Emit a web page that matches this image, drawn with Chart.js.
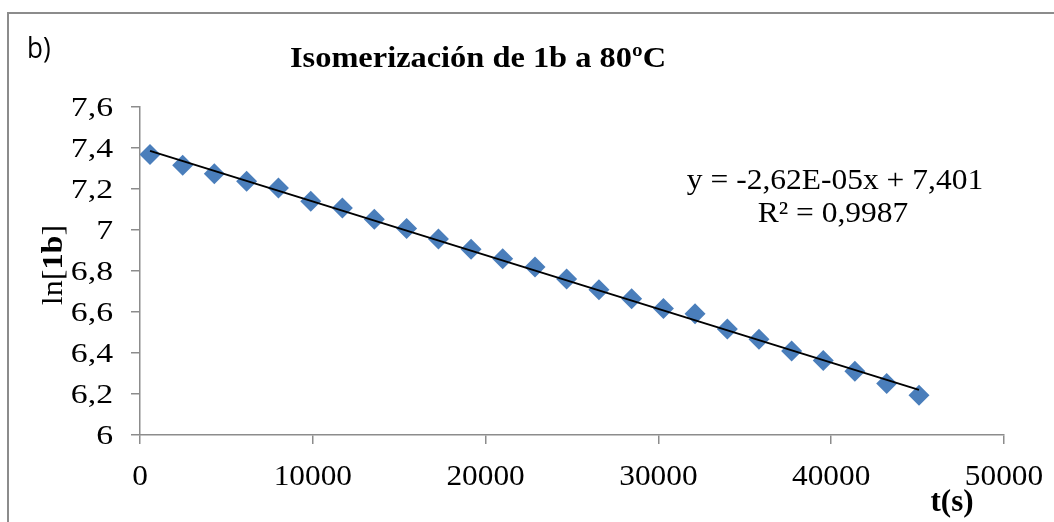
<!DOCTYPE html>
<html>
<head>
<meta charset="utf-8">
<script src="https://cdn.jsdelivr.net/npm/chart.js@4"></script>
<style>
  body { margin: 0; background: #fff; }
  #wrap { width: 1054px; height: 522px; }
</style>
</head>
<body>
<div id="wrap"><canvas id="myChart" width="1054" height="522"></canvas></div>
<script>
// data
const timeS = [580, 2470, 4300, 6170, 8010, 9880, 11710, 13560, 15430, 17270, 19160, 20990,
  22860, 24690, 26560, 28450, 30290, 32120, 33990, 35820, 37710, 39540, 41370, 43210, 45080];
const lnC = [7.368, 7.316, 7.275, 7.238, 7.205, 7.140, 7.107, 7.052, 7.007, 6.956, 6.906, 6.860,
  6.820, 6.761, 6.709, 6.665, 6.617, 6.592, 6.517, 6.467, 6.410, 6.364, 6.311, 6.251, 6.194];
const trendX = [580, 45080];
const trendY = [7.386, 6.220];

const xTicks = [0, 10000, 20000, 30000, 40000, 50000];
const xTickLabels = ["0", "10000", "20000", "30000", "40000", "50000"];
const yTicks = [6, 6.2, 6.4, 6.6, 6.8, 7, 7.2, 7.4, 7.6];
const yTickLabels = ["6", "6,2", "6,4", "6,6", "6,8", "7", "7,2", "7,4", "7,6"];

const titleText = "Isomerización de 1b a 80ºC";
const eqLine1 = "y = -2,62E-05x + 7,401";
const eqLine2 = "R² = 0,9987";

const axisGray = "#8c8c8c";
const serif = "'Liberation Serif', 'Times New Roman', serif";

// draws text squeezed/stretched horizontally by sx
drawRuns = (ctx, parts, x, y, align, sx) => {
  ctx.save();
  ctx.textBaseline = "alphabetic";
  ctx.textAlign = "left";
  let w = 0;
  parts.forEach(p => { ctx.font = p[1]; w += ctx.measureText(p[0]).width; });
  w *= sx;
  let x0 = align === "center" ? x - w / 2 : align === "right" ? x - w : x;
  ctx.translate(x0, y);
  ctx.scale(sx, 1);
  let cx = 0;
  parts.forEach(p => {
    ctx.font = p[1];
    ctx.fillText(p[0], cx, 0);
    cx += ctx.measureText(p[0]).width;
  });
  ctx.restore();
};

const textPlugin = {
  id: "texts",
  beforeDraw: (chart) => {
    const ctx = chart.ctx;
    ctx.save();
    ctx.fillStyle = "#fff";
    ctx.fillRect(0, 0, chart.width, chart.height);
    // outer frame
    ctx.strokeStyle = axisGray;
    ctx.lineWidth = 2;
    ctx.beginPath();
    ctx.moveTo(8, 522);
    ctx.lineTo(8, 13);
    ctx.lineTo(1054, 13);
    ctx.stroke();
    ctx.restore();
  },
  afterDraw: (chart) => {
    const ctx = chart.ctx;
    const xs = chart.scales.x, ys = chart.scales.y;
    ctx.save();
    ctx.fillStyle = "#000";

    drawRuns(ctx, [["b)", "29px 'Open Sans', sans-serif"]], 27, 58, "left", 0.9);
    drawRuns(ctx, [[titleText, "bold 30px " + serif]], 478, 67, "center", 1.08);

    yTicks.forEach((v, i) => {
      drawRuns(ctx, [[yTickLabels[i], "27px " + serif]], 113, ys.getPixelForValue(v) + 9, "right", 1.25);
    });
    xTicks.forEach((v, i) => {
      drawRuns(ctx, [[xTickLabels[i], "29px " + serif]], xs.getPixelForValue(v), 485, "center", 1.08);
    });

    drawRuns(ctx, [["t(s)", "bold 31px " + serif]], 952, 511, "center", 1.0);

    ctx.save();
    ctx.translate(62, 265);
    ctx.rotate(-Math.PI / 2);
    drawRuns(ctx, [["ln[", "30px " + serif], ["1b", "bold 30px " + serif], ["]", "30px " + serif]], 0, 0, "center", 1.07);
    ctx.restore();

    drawRuns(ctx, [[eqLine1, "30px " + serif]], 835, 189, "center", 1.05);
    drawRuns(ctx, [[eqLine2, "30px " + serif]], 833, 222, "center", 1.05);
    ctx.restore();
  }
};

const ctx = document.getElementById("myChart").getContext("2d");
const chart = new Chart(ctx, {
  type: "scatter",
  data: {
    datasets: [
      {
        label: "Lineal",
        data: trendX.map((x, i) => ({ x: x, y: trendY[i] })),
        showLine: true,
        borderColor: "#000",
        borderWidth: 2,
        pointRadius: 0,
        fill: false
      },
      {
        label: "ln[1b]",
        data: timeS.map((t, i) => ({ x: t, y: lnC[i] })),
        pointStyle: "rectRot",
        pointRadius: 10.5,
        pointHoverRadius: 10.5,
        backgroundColor: "#4a7ebb",
        borderColor: "#4a7ebb",
        borderWidth: 0
      }
    ]
  },
  options: {
    responsive: false,
    animation: false,
    events: [],
    layout: { padding: { top: 107, right: 50, left: 0, bottom: 0 } },
    plugins: {
      legend: { display: false },
      title: { display: false },
      tooltip: { enabled: false }
    },
    scales: {
      x: {
        type: "linear",
        min: 0,
        max: 50000,
        afterBuildTicks: (scale) => { scale.ticks = xTicks.map(v => ({ value: v })); },
        afterFit: (scale) => { scale.height = 87; },
        ticks: { display: false },
        grid: { drawOnChartArea: false, drawTicks: true, tickLength: 9, color: axisGray, lineWidth: 1.5 },
        border: { color: axisGray, width: 1.5 }
      },
      y: {
        type: "linear",
        min: 6,
        max: 7.6,
        afterBuildTicks: (scale) => { scale.ticks = yTicks.map(v => ({ value: v })); },
        afterFit: (scale) => { scale.width = 140; },
        ticks: { display: false },
        grid: { drawOnChartArea: false, drawTicks: true, tickLength: 9, color: axisGray, lineWidth: 1.5 },
        border: { color: axisGray, width: 1.5 }
      }
    }
  },
  plugins: [textPlugin]
});
</script>
</body>
</html>
